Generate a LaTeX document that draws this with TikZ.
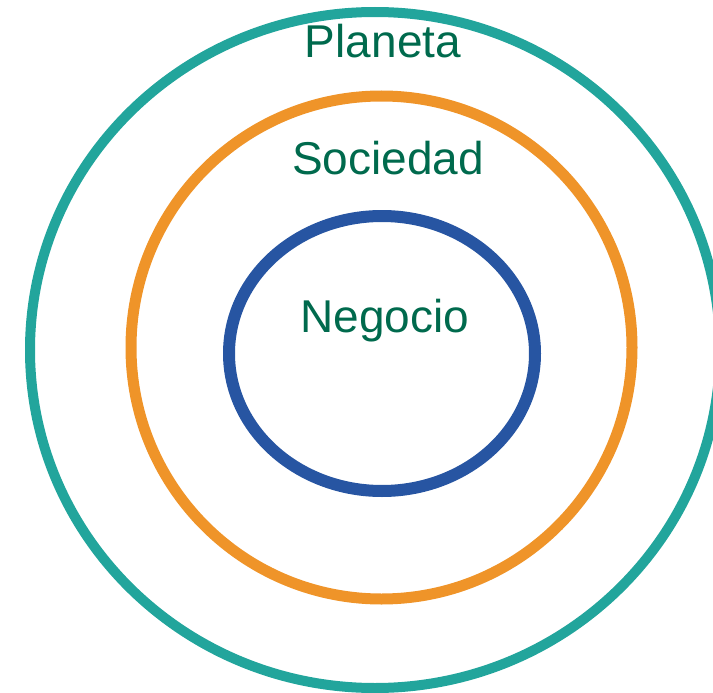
\documentclass[tikz,border=0pt]{standalone}
\usepackage{fontspec}
\setmainfont{Liberation Sans}
\usepackage{tikz}
\usetikzlibrary{shapes,positioning}
\usepackage{xcolor}
\definecolor{mteal}{HTML}{22A59C}
\definecolor{morange}{HTML}{EF9429}
\definecolor{mblue}{HTML}{2755A2}
\definecolor{mgreen}{HTML}{006A4D}
\tikzstyle{ring}=[ellipse, draw, inner sep=0pt, outer sep=0pt]
\tikzstyle{lbl}=[text=mgreen, inner sep=0pt, anchor=base, font=\fontsize{46}{55}\selectfont]

\begin{document}
\begin{tikzpicture}[x=1pt,y=-1pt]
    \useasboundingbox (0,0) rectangle (713,693);
    \clip (0,0) rectangle (713,693);
    \node[ring, line width=10, draw=mteal, minimum width=690, minimum height=676] (planeta) at (375,350) {};
    \node[ring, line width=11, draw=morange, minimum width=501, minimum height=503] (sociedad) at (381.5,347.5) {};
    \node[ring, line width=12, draw=mblue, minimum width=306, minimum height=275] (negocio) at (382,353.5) {};

    \node[lbl] (tplaneta) at (383,58) {Planeta};
    \node[lbl] (tsociedad) at (388,175) {Sociedad};
    \node[lbl] (tnegocio) at (385,332) {Negocio};
\end{tikzpicture}
\end{document}
